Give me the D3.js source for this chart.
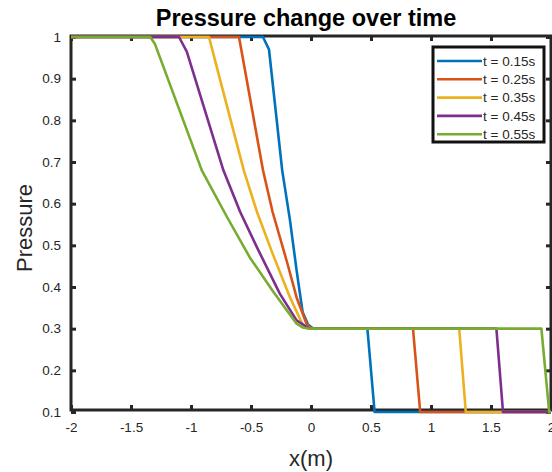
<!DOCTYPE html>
<html>
<head>
<meta charset="utf-8">
<script src="https://cdn.jsdelivr.net/npm/d3@7"></script>
<style>
  body { margin: 0; background: #fff; }
  svg text { font-family: "Liberation Sans", Arial, Helvetica, sans-serif; fill: #262626; }
</style>
</head>
<body>
<svg id="chart" width="552" height="472"></svg>
<script>
// series labels + matlab default colours
const seriesNames = ["t = 0.15s", "t = 0.25s", "t = 0.35s", "t = 0.45s", "t = 0.55s"];
const seriesColors = ["#0072BD", "#D95319", "#EDB120", "#7E2F8E", "#77AC30"];

const xTicks = [-2, -1.5, -1, -0.5, 0, 0.5, 1, 1.5, 2];
const yTicks = [0.1, 0.2, 0.3, 0.4, 0.5, 0.6, 0.7, 0.8, 0.9, 1];

// values
const x015 = [-2, -0.40, -0.35, -0.24, -0.175, -0.12, -0.07, -0.025, 0.02, 0.47, 0.53, 2];
const p015 = [1, 1, 0.97, 0.68, 0.56, 0.44, 0.34, 0.31, 0.30, 0.30, 0.10, 0.10];

const x025 = [-2, -0.60, -0.40, -0.32, -0.20, -0.12, -0.035, 0.01, 0.85, 0.91, 2];
const p025 = [1, 1, 0.68, 0.58, 0.46, 0.375, 0.31, 0.30, 0.30, 0.10, 0.10];

const x035 = [-2, -0.85, -0.76, -0.56, -0.45, -0.32, -0.175, -0.07, -0.01, 1.235, 1.29, 2];
const p035 = [1, 1, 0.90, 0.68, 0.58, 0.48, 0.375, 0.31, 0.30, 0.30, 0.10, 0.10];

const x045 = [-2, -1.10, -1.035, -0.73, -0.59, -0.45, -0.26, -0.12, -0.05, -0.01, 1.545, 1.60, 2];
const p045 = [1, 1, 0.965, 0.68, 0.58, 0.495, 0.384, 0.32, 0.307, 0.30, 0.30, 0.10, 0.10];

const x055 = [-2, -1.34, -1.30, -0.91, -0.70, -0.51, -0.32, -0.12, -0.07, -0.01, 1.92, 1.985, 2];
const p055 = [1, 1, 0.983, 0.68, 0.568, 0.471, 0.391, 0.312, 0.303, 0.30, 0.30, 0.10, 0.10];

const xs = [x015, x025, x035, x045, x055];
const ps = [p015, p025, p035, p045, p055];

const series = seriesNames.map((name, i) => ({
  name: name,
  color: seriesColors[i],
  pts: d3.zip(xs[i], ps[i])
}));

const svg = d3.select("#chart");

const x = d3.scaleLinear().domain([-2, 2]).range([71, 551]);
const y = d3.scaleLinear().domain([0.1, 1]).range([412, 37]);

const boxTop = y(1) - 1, boxBottom = y(0.1) - 2;
const axisCol = "#262626";

// axes box
svg.append("rect")
  .attr("x", x(-2)).attr("y", boxTop)
  .attr("width", x(2) - x(-2)).attr("height", boxBottom - boxTop)
  .attr("fill", "none").attr("stroke", axisCol).attr("stroke-width", 3);

const fmt = d => String(d);

const styleAxis = function(g, showLabels) {
  g.select(".domain").remove();
  g.selectAll(".tick line").attr("stroke", axisCol).attr("stroke-width", 3);
  g.selectAll(".tick text")
    .attr("font-size", "13.5px")
    .style("display", showLabels ? null : "none");
};

svg.append("g")
  .attr("transform", `translate(0,${boxBottom})`)
  .call(d3.axisBottom(x).tickValues(xTicks).tickFormat(fmt).tickSizeInner(-5).tickSizeOuter(0).tickPadding(12))
  .call(g => styleAxis(g, true));

svg.append("g")
  .attr("transform", `translate(0,${boxTop})`)
  .call(d3.axisTop(x).tickValues(xTicks).tickSizeInner(-5).tickSizeOuter(0))
  .call(g => styleAxis(g, false));

svg.append("g")
  .attr("transform", `translate(${x(-2)},0)`)
  .call(d3.axisLeft(y).tickValues(yTicks).tickFormat(fmt).tickSizeInner(-5).tickSizeOuter(0).tickPadding(10))
  .call(g => styleAxis(g, true));

svg.append("g")
  .attr("transform", `translate(${x(2)},0)`)
  .call(d3.axisRight(y).tickValues(yTicks).tickSizeInner(-5).tickSizeOuter(0))
  .call(g => styleAxis(g, false));

svg.selectAll(".tick text").attr("fill", "#404040");

// curves
const line = d3.line().x(d => x(d[0])).y(d => y(d[1]));

svg.append("g").selectAll("path")
  .data(series)
  .join("path")
  .attr("d", d => line(d.pts))
  .attr("fill", "none")
  .attr("stroke", d => d.color)
  .attr("stroke-width", 2.6)
  .attr("stroke-linejoin", "round");

// title and labels
svg.append("text")
  .attr("x", 306).attr("y", 26)
  .attr("text-anchor", "middle")
  .attr("font-size", "23.5px").attr("font-weight", "bold")
  .style("fill", "#000")
  .text("Pressure change over time");

svg.append("text")
  .attr("x", 311).attr("y", 466)
  .attr("text-anchor", "middle")
  .attr("font-size", "22px")
  .text("x(m)");

svg.append("text")
  .attr("transform", "translate(32,228) rotate(-90)")
  .attr("text-anchor", "middle")
  .attr("font-size", "22px")
  .text("Pressure");

// legend
const legend = svg.append("g");
legend.append("rect")
  .attr("x", 433).attr("y", 47).attr("width", 111).attr("height", 95)
  .attr("fill", "#fff").attr("stroke", "#111").attr("stroke-width", 3);

const rows = legend.selectAll("g.row")
  .data(series)
  .join("g")
  .attr("class", "row")
  .attr("transform", (d, i) => `translate(0,${61 + i * 18.3})`);

rows.append("line")
  .attr("x1", 437).attr("x2", 482)
  .attr("stroke", d => d.color).attr("stroke-width", 2.6);

rows.append("text")
  .attr("x", 483).attr("dy", "0.35em")
  .attr("font-size", "13.5px")
  .text(d => d.name);
</script>
</body>
</html>
